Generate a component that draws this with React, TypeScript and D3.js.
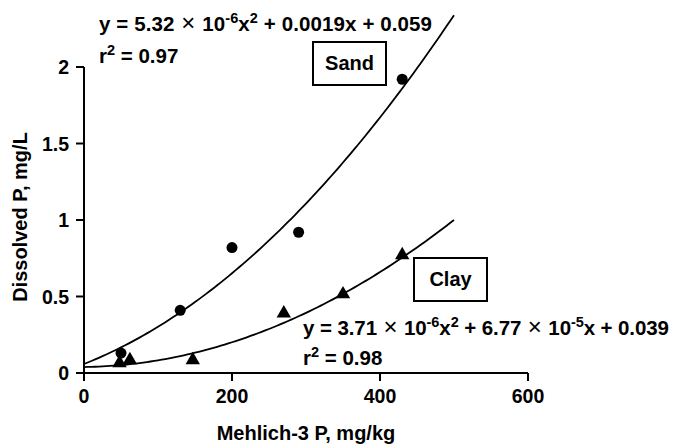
import React from "react";
import * as d3 from "d3";

// Sand soil observations
const sandX = [50, 130, 200, 290, 430];
const sandY = [0.13, 0.41, 0.82, 0.92, 1.92];
// Clay soil observations
const clayX = [48, 62, 147, 270, 350, 430];
const clayY = [0.065, 0.085, 0.085, 0.39, 0.515, 0.77];

// Quadratic fit coefficients [a, b, c] for y = a x^2 + b x + c
const sandFit = [5.32e-6, 0.0019, 0.059];
const clayFit = [3.71e-6, 6.77e-5, 0.039];

const xTicks = [0, 200, 400, 600];
const yTicks = [0, 0.5, 1, 1.5, 2];
const yTickLabels = ["0", "0.5", "1", "1.5", "2"];

const W = 673;
const H = 447;
const FONT = "'Liberation Sans', Arial, Helvetica, sans-serif";

export default function App() {
  const x = d3.scaleLinear().domain([0, 600]).range([84, 528]);
  const y = d3.scaleLinear().domain([0, 2]).range([373, 67]);

  const fitLine = (coef: number[]) => {
    const xs = d3.range(0, 500.01, 5);
    return d3
      .line<number>()
      .x((v) => x(v))
      .y((v) => y(coef[0] * v * v + coef[1] * v + coef[2]))(xs) as string;
  };

  const tri = d3.symbol().type(d3.symbolTriangle).size(90)() as string;

  const sup = (s: string) => (
    <tspan baselineShift="super" fontSize={14.5}>
      {s}
    </tspan>
  );
  const times = (
    <tspan fontWeight="normal" fontSize={24}>
      {" \u00D7 "}
    </tspan>
  );

  return (
    <svg
      width={W}
      height={H}
      style={{ position: "absolute", left: 0, top: 0, background: "#fff" }}
      fontFamily={FONT}
      fontWeight="bold"
    >
      {/* axes */}
      <g stroke="#000" strokeWidth={2} fill="none">
        <line x1={x(0)} x2={x(0)} y1={y(2)} y2={y(0) + 8} />
        <line x1={x(0) - 8} x2={x(600)} y1={y(0)} y2={y(0)} />
        {xTicks.map((t) => (
          <line key={"xt" + t} x1={x(t)} x2={x(t)} y1={y(0)} y2={y(0) + 8} />
        ))}
        {yTicks.map((t) => (
          <line key={"yt" + t} x1={x(0) - 8} x2={x(0)} y1={y(t)} y2={y(t)} />
        ))}
      </g>
      <g fontSize={19.5} fill="#000">
        {xTicks.map((t) => (
          <text key={"xl" + t} x={x(t)} y={403} textAnchor="middle">
            {t}
          </text>
        ))}
        {yTicks.map((t, i) => (
          <text key={"yl" + t} x={69} y={y(t) + 7} textAnchor="end">
            {yTickLabels[i]}
          </text>
        ))}
      </g>
      <text x={306} y={440} fontSize={20} textAnchor="middle">
        Mehlich-3 P, mg/kg
      </text>
      <text
        transform="translate(27,217) rotate(-90)"
        fontSize={20}
        textAnchor="middle"
      >
        Dissolved P, mg/L
      </text>

      {/* fitted curves */}
      <path d={fitLine(sandFit)} fill="none" stroke="#000" strokeWidth={1.8} />
      <path d={fitLine(clayFit)} fill="none" stroke="#000" strokeWidth={1.8} />

      {/* observations */}
      {sandX.map((v, i) => (
        <circle key={"s" + i} cx={x(v)} cy={y(sandY[i])} r={5.5} fill="#000" />
      ))}
      {clayX.map((v, i) => (
        <path
          key={"c" + i}
          d={tri}
          transform={`translate(${x(v)},${y(clayY[i])})`}
          fill="#000"
        />
      ))}

      {/* series labels */}
      <rect x={313} y={42} width={73} height={43} fill="#fff" stroke="#000" strokeWidth={2} />
      <text x={349.5} y={70} fontSize={20} textAnchor="middle">
        Sand
      </text>
      <rect x={414} y={258} width={73} height={43} fill="#fff" stroke="#000" strokeWidth={2} />
      <text x={450.5} y={286} fontSize={20} textAnchor="middle">
        Clay
      </text>

      {/* regression equations */}
      <g fontSize={20.5} fill="#000">
        <text x={99} y={31} textLength={333} lengthAdjust="spacing">
          y = 5.32{times}10{sup("-6")}x{sup("2")} + 0.0019x + 0.059
        </text>
        <text x={99} y={63}>
          r{sup("2")} = 0.97
        </text>
        <text x={303} y={335} textLength={366} lengthAdjust="spacing">
          y = 3.71{times}10{sup("-6")}x{sup("2")} + 6.77{times}10{sup("-5")}x + 0.039
        </text>
        <text x={303} y={365}>
          r{sup("2")} = 0.98
        </text>
      </g>
    </svg>
  );
}
